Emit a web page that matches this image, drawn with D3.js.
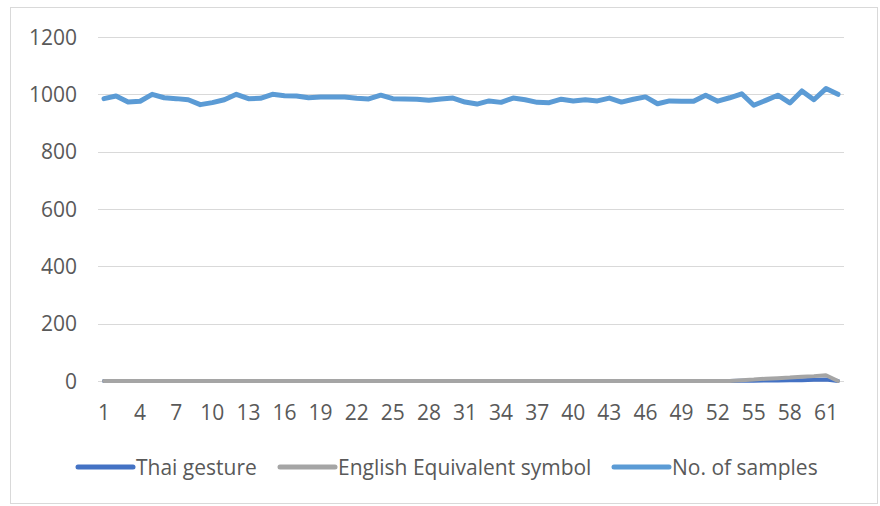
<!DOCTYPE html>
<html>
<head>
<meta charset="utf-8">
<script src="https://cdn.jsdelivr.net/npm/d3@7"></script>
<style>
  body { margin: 0; background: #fff; }
  text { font-family: "Open Sans", Lato, sans-serif; fill: #595959; }
</style>
</head>
<body>
<div id="chart"></div>
<script>
"use strict";

// Chart data
const categories = d3.range(1, 63); // 1 .. 62
const seriesNames = ["Thai gesture", "English Equivalent symbol", "No. of samples"];
const seriesColors = ["#4472C4", "#A5A5A5", "#5B9BD5"];

const thaiGesture = [
  0, 0, 0, 0, 0, 0, 0, 0, 0, 0, 0, 0, 0, 0, 0, 0, 0, 0, 0, 0,
  0, 0, 0, 0, 0, 0, 0, 0, 0, 0, 0, 0, 0, 0, 0, 0, 0, 0, 0, 0,
  0, 0, 0, 0, 0, 0, 0, 0, 0, 0, 0, 0, 0, 1, 1, 2, 2, 3, 3, 4,
  5, 0
];
const englishSymbol = [
  0, 0, 0, 0, 0, 0, 0, 0, 0, 0, 0, 0, 0, 0, 0, 0, 0, 0, 0, 0,
  0, 0, 0, 0, 0, 0, 0, 0, 0, 0, 0, 0, 0, 0, 0, 0, 0, 0, 0, 0,
  0, 0, 0, 0, 0, 0, 0, 0, 0, 0, 0, 0, 0, 3, 5, 8, 10, 12, 15, 17,
  20, 0
];
const noOfSamples = [
  985, 994, 973, 976, 1000, 988, 985, 981, 964, 971,
  981, 1000, 985, 986, 1000, 995, 994, 988, 991, 991,
  991, 986, 984, 997, 985, 984, 983, 979, 984, 987,
  973, 966, 977, 972, 987, 981, 972, 971, 983, 977,
  981, 977, 987, 973, 983, 991, 967, 977, 976, 976,
  997, 976, 988, 1002, 962, 979, 997, 970, 1012, 981,
  1020, 1000
];
const yTicks = [0, 200, 400, 600, 800, 1000, 1200];

const seriesData = [thaiGesture, englishSymbol, noOfSamples];

const width = 880;
const height = 506;
const margin = { left: 98, right: 36, top: 37, bottom: 125 };

const svg = d3.select("#chart")
  .append("svg")
  .attr("width", width)
  .attr("height", height);

// Outer chart border
svg.append("rect")
  .attr("x", 10.5).attr("y", 7.5)
  .attr("width", 867).attr("height", 496)
  .attr("fill", "#fff")
  .attr("stroke", "#d9d9d9");

// Scales
const x = d3.scaleBand()
  .domain(categories)
  .range([margin.left, width - margin.right]);

const y = d3.scaleLinear()
  .domain([0, 1200])
  .range([height - margin.bottom, margin.top]);

// Gridlines
svg.append("g")
  .selectAll("line")
  .data(yTicks)
  .join("line")
  .attr("x1", margin.left)
  .attr("x2", width - margin.right)
  .attr("y1", d => Math.round(y(d)) + 0.5)
  .attr("y2", d => Math.round(y(d)) + 0.5)
  .attr("stroke", "#d9d9d9")
  .attr("stroke-width", 1);

// Y labels
svg.append("g")
  .selectAll("text")
  .data(yTicks)
  .join("text")
  .attr("x", 77)
  .attr("y", d => y(d))
  .attr("dy", "0.36em")
  .attr("text-anchor", "end")
  .style("font-size", "21px")
  .text(d => d);

// X labels (every third category)
svg.append("g")
  .selectAll("text")
  .data(categories.filter((d, i) => i % 3 === 0))
  .join("text")
  .attr("x", d => x(d) + x.bandwidth() / 2)
  .attr("y", 412)
  .attr("dy", "0.36em")
  .attr("text-anchor", "middle")
  .style("font-size", "21px")
  .text(d => d);

// Lines
const line = d3.line()
  .x((d, i) => x(categories[i]) + x.bandwidth() / 2)
  .y(d => y(d));

const widths = [4, 4, 5];
svg.append("g")
  .selectAll("path")
  .data(seriesData)
  .join("path")
  .attr("d", line)
  .attr("fill", "none")
  .attr("stroke", (d, i) => seriesColors[i])
  .attr("stroke-width", (d, i) => widths[i])
  .attr("stroke-linejoin", "round")
  .attr("stroke-linecap", "round");

// Legend
const legendX = [78, 280, 614];
const legend = svg.append("g")
  .selectAll("g")
  .data(seriesNames)
  .join("g")
  .attr("transform", (d, i) => `translate(${legendX[i]}, 467)`);

legend.append("line")
  .attr("x1", 0).attr("x2", 55)
  .attr("y1", 0).attr("y2", 0)
  .attr("stroke", (d, i) => seriesColors[i])
  .attr("stroke-width", 5)
  .attr("stroke-linecap", "round");

legend.append("text")
  .attr("x", 58)
  .attr("y", 0)
  .attr("dy", "0.36em")
  .style("font-size", "21px")
  .text(d => d);
</script>
</body>
</html>
